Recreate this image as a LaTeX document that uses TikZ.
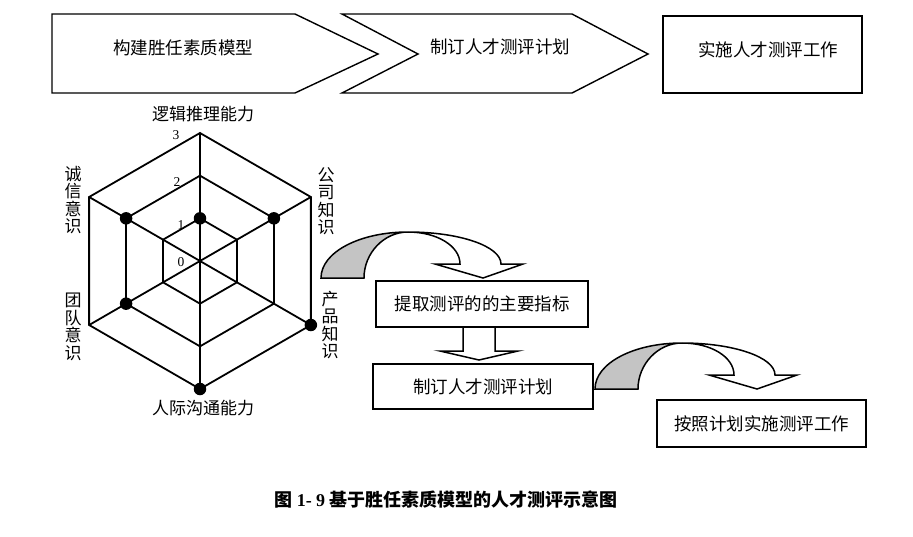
\documentclass[tikz,border=0pt]{standalone}
\usepackage{fontspec}
\setmainfont{Liberation Serif}
\newfontfamily\cjk{Noto Sans CJK SC}
\usetikzlibrary{calc}

\definecolor{BendGray}{HTML}{c4c4c4}
\tikzstyle{flow-shape}=[draw, line width=1.4pt, line join=miter]
\tikzstyle{flow-text}=[inner sep=0pt, font=\cjk\fontsize{17.5}{17.5}\selectfont]
\tikzstyle{step-box}=[draw, line width=2pt, inner sep=0pt, font=\cjk\fontsize{17.5}{17.5}\selectfont]
\tikzstyle{radar-line}=[line width=1.8pt]
\tikzstyle{radar-point}=[circle, fill=black, inner sep=0pt, minimum size=12.5pt]
\tikzstyle{level-label}=[inner sep=0pt, font=\fontsize{13.5}{13.5}\selectfont]
\tikzstyle{axis-label}=[inner sep=0pt, align=center, font=\cjk\fontsize{17}{17.5}\selectfont]
\tikzstyle{block-arrow}=[draw, fill=white, line width=1.5pt, line join=miter]
\tikzset{
  bend-arrow/.pic={
    \path[block-arrow, fill=BendGray] (0,0) .. controls (0,-26) and (39,-46) .. (87,-46)
          .. controls (63,-46) and (43,-25) .. (43,0) -- cycle;
    \path[block-arrow] (87,-46) .. controls (138,-46) and (180,-32) .. (180,-14)
          -- (202,-14) -- (162,0) -- (114,-14) -- (139,-14)
          .. controls (139,-32) and (116,-46) .. (87,-46) -- cycle;
  }
}

\begin{document}
\begin{tikzpicture}[x=1pt, y=-1pt]
      \useasboundingbox (0,0) rectangle (913,536);

      % top row
      \draw[flow-shape] (52,14) -- (295,14) -- (378,54) -- (295,93) -- (52,93) -- cycle;
      \draw[flow-shape] (342,14) -- (572,14) -- (648,54) -- (572,93) -- (342,93) -- (418,54) -- cycle;
      \draw[flow-shape, line width=2pt] (663,16) rectangle (862,93);
      \node (build) at (183,48) [flow-text] {构建胜任素质模型};
      \node (plan) at (500,47) [flow-text] {制订人才测评计划};
      \node (carry) at (768,50) [flow-text] {实施人才测评工作};

      % radar
      \begin{scope}[shift={(200,261)}]
        \foreach \lv in {1,2,3}
          \draw[radar-line] (-90:\lv*42.67) \foreach \a in {-30,30,...,210} {-- (\a:\lv*42.67)} -- cycle;
        \foreach \a in {-90,-30,...,210}
          \draw[radar-line] (0,0) -- (\a:128);
        \foreach \nm/\a/\v in {logic/-90/1, company/-30/2, product/30/3, social/90/3, team/150/2, honest/210/2}
          \node (pt-\nm) at (\a:\v*42.67) [radar-point] {};
      \end{scope}
      \node (lv0) at (181,262) [level-label] {0};
      \node (lv1) at (181,225) [level-label] {1};
      \node (lv2) at (177,182) [level-label] {2};
      \node (lv3) at (176,135) [level-label] {3};

      \node (ax-logic) at (203,114) [axis-label] {逻辑推理能力};
      \node (ax-social) at (203,408) [axis-label] {人际沟通能力};
      \node (ax-honest) at (73,200) [axis-label] {诚\\信\\意\\识};
      \node (ax-team) at (73,327) [axis-label] {团\\队\\意\\识};
      \node (ax-company) at (326,201) [axis-label] {公\\司\\知\\识};
      \node (ax-product) at (330,325) [axis-label] {产\\品\\知\\识};

      % steps
      \node (b1) at (482,304) [step-box, minimum width=212pt, minimum height=46pt] {提取测评的的主要指标};
      \node (b2) at (483,386.5) [step-box, minimum width=220pt, minimum height=45pt] {制订人才测评计划};
      \node (b3) at (761.5,423.5) [step-box, minimum width=209pt, minimum height=47pt] {按照计划实施测评工作};

      \path[block-arrow] ($(b1.south)+(-19,0)$) -- ++(0,23) -- ++(-23,0) -- ($(b2.north)+(-4,-3)$)
            -- ($(b1.south)+(36,23)$) -- ++(-23,0) -- ++(0,-23);
      \pic at ($(b1.north west)+(-54,-2)$) {bend-arrow};
      \pic at ($(b2.east)+(1,2.5)$) {bend-arrow};

      \node (caption) at (446,500) [inner sep=0pt, font=\bfseries\fontsize{18}{18}\selectfont]
            {{\cjk 图} 1- 9 {\cjk 基于胜任素质模型的人才测评示意图}};
\end{tikzpicture}
\end{document}
